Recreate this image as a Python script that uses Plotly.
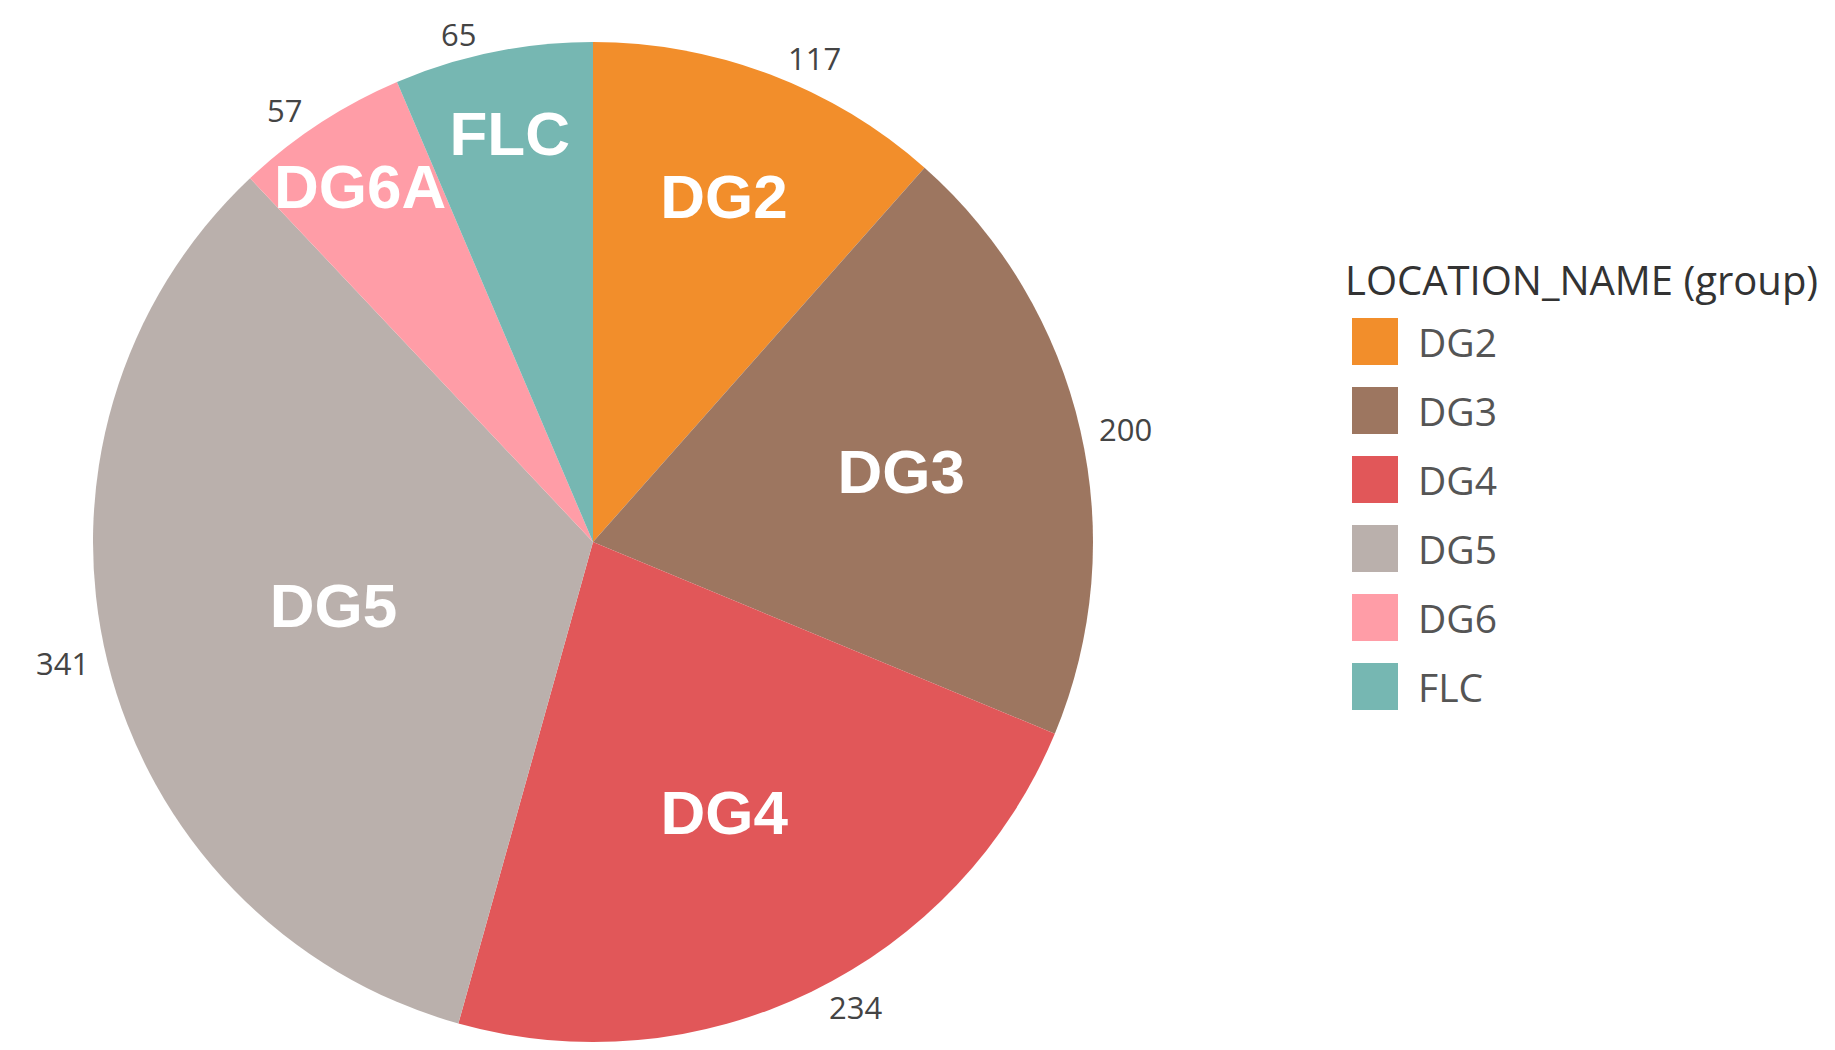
import math
import plotly.graph_objects as go

# ---- data ----
slice_labels = ["DG2", "DG3", "DG4", "DG5", "DG6A", "FLC"]
legend_labels = ["DG2", "DG3", "DG4", "DG5", "DG6", "FLC"]
values = [117, 200, 234, 341, 57, 65]
colors = ["#F28E2B", "#9D7660", "#E15759", "#BAB0AC", "#FF9DA7", "#76B7B2"]
legend_title = "LOCATION_NAME (group)"

# ---- geometry / style ----
OFF = 8                      # default page body margin
W, H = 1835 - 2 * OFF, 1050 - 2 * OFF
R = 500
CX, CY = 593 - OFF, H - R    # figure pixel coords of the pie centre
INSIDE_SIZE = 62
VALUE_SIZE = 31
TITLE_SIZE = 40
LEG_SIZE = 39

fig = go.Figure(
    go.Pie(
        labels=slice_labels,
        values=values,
        sort=False,
        direction="clockwise",
        rotation=0,
        marker=dict(colors=colors, line=dict(width=0)),
        textinfo="label",
        textposition="inside",
        insidetextorientation="horizontal",
        insidetextfont=dict(family="Liberation Sans", size=INSIDE_SIZE, color="white", weight="bold"),
        domain=dict(x=[(CX - R - 40) / W, (CX + R + 40) / W], y=[0, 2 * R / H]),
        showlegend=False,
        hoverinfo="label+value+percent",
    )
)

annotations = []
shapes = []

# outside value labels (placed like plotly's own outside text, from slice mid-angles)
total = sum(values)
cum = 0
RL = R + 2
half_h = VALUE_SIZE * 1.1 / 2
for v in values:
    mid = (cum + v / 2) / total * 2 * math.pi
    cum += v
    ux, uy = math.sin(mid), -math.cos(mid)  # uy positive = downward on screen
    px, py = CX + RL * ux, CY + RL * uy
    dy = half_h if uy >= 0 else -half_h
    ycen = dy / (1 + (ux * ux) / (uy * uy)) if abs(uy) > 1e-6 else 0
    annotations.append(dict(
        x=px / W, y=1 - py / H, xref="paper", yref="paper",
        text=str(v), showarrow=False,
        xanchor="left" if ux >= 0 else "right", yanchor="middle",
        xshift=(half_h / 2 + 6) * (1 if ux >= 0 else -1), yshift=-ycen,
        font=dict(family="Open Sans", size=VALUE_SIZE, color="#444444"),
    ))

# manual legend (screen coords minus page offset)
LX0, LX1 = 1352 - OFF, 1398 - OFF
LY0, STEP, SW = 318 - OFF, 69, 47
annotations.append(dict(
    x=(1343 - OFF) / W, y=1 - (279 - OFF) / H, xref="paper", yref="paper",
    text=legend_title, showarrow=False, xanchor="left", yanchor="middle",
    font=dict(family="Open Sans", size=TITLE_SIZE, color="#333333"),
))
for i, (lab, col) in enumerate(zip(legend_labels, colors)):
    top = LY0 + STEP * i
    shapes.append(dict(
        type="rect", xref="paper", yref="paper",
        x0=LX0 / W, x1=LX1 / W, y0=1 - top / H, y1=1 - (top + SW) / H,
        fillcolor=col, line=dict(width=0),
    ))
    annotations.append(dict(
        x=(1416 - OFF) / W, y=1 - (top + SW / 2) / H, xref="paper", yref="paper",
        text=lab, showarrow=False, xanchor="left", yanchor="middle",
        font=dict(family="Open Sans", size=LEG_SIZE, color="#555555"),
    ))

fig.update_layout(
    width=W, height=H,
    margin=dict(l=0, r=0, t=0, b=0),
    paper_bgcolor="white", plot_bgcolor="white",
    showlegend=False,
    uniformtext=dict(minsize=INSIDE_SIZE, mode="show"),
    annotations=annotations,
    shapes=shapes,
)

fig.write_html("out.html")
